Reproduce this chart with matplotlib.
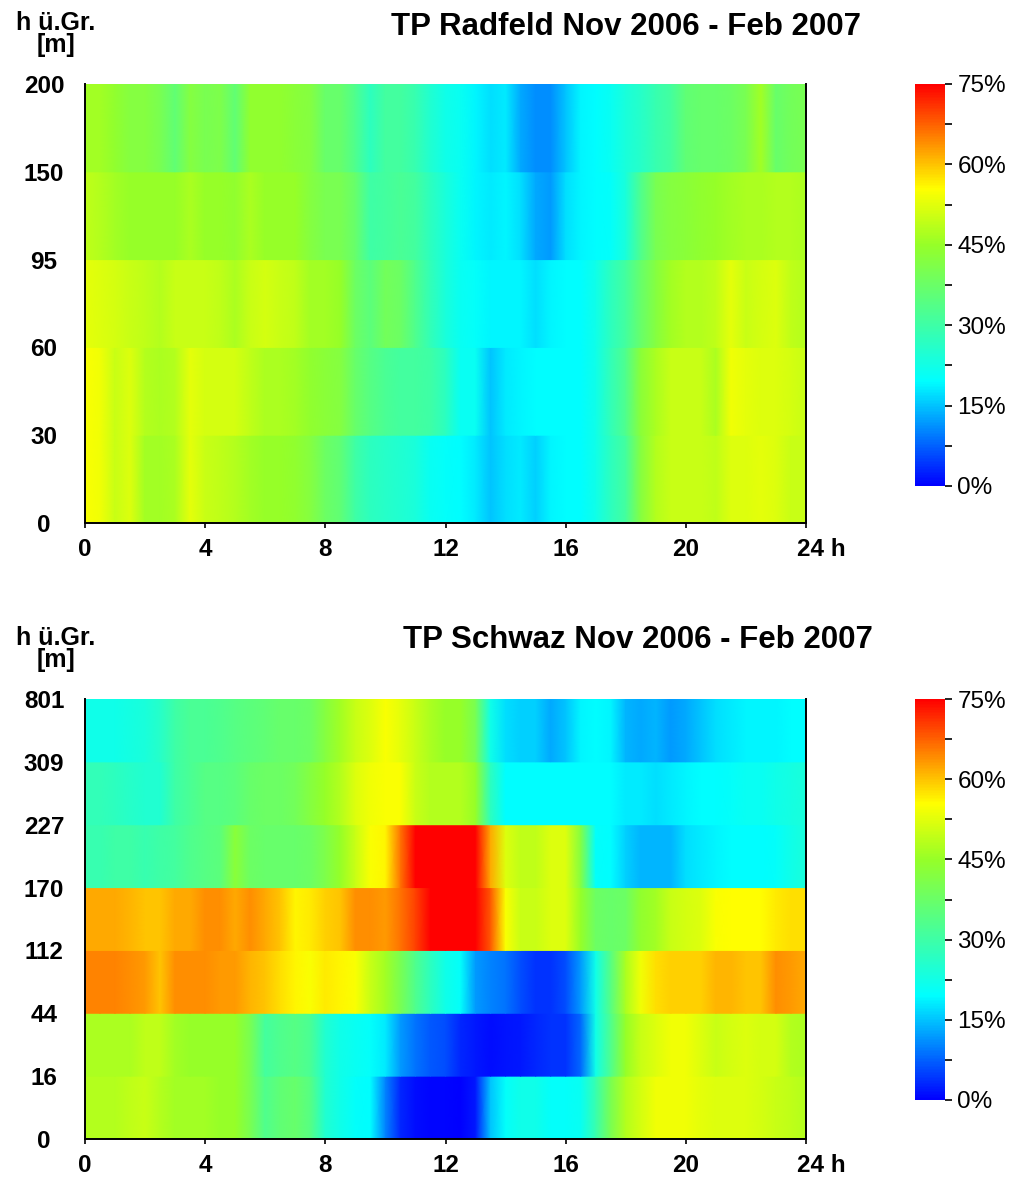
import numpy as np
import matplotlib
matplotlib.use("Agg")
import matplotlib.pyplot as plt
import matplotlib.transforms as mtransforms
from matplotlib.colors import LinearSegmentedColormap, Normalize
from matplotlib.cm import ScalarMappable
from matplotlib.ticker import MultipleLocator

# half-hourly values 0:00 ... 24:00, percent
hours = np.arange(0, 24.5, 0.5)

radfeld_levels = ["0", "30", "60", "95", "150", "200"]
radfeld_rows = [
    # 0-30 m
    [55, 54, 50, 52, 46, 46, 47, 53, 50, 49, 48, 46, 45, 45, 44, 42, 38, 36, 30, 27, 26, 25, 24, 21, 20,
     19.5, 18, 15, 17, 18, 16, 19, 19.5, 19.5, 22, 27, 31, 42, 48, 50, 50, 50, 49, 52, 52, 53, 52, 50, 50],
    # 30-60 m
    [55, 54, 50, 52, 48, 47, 48, 53, 51, 51, 51, 49, 47, 47, 46, 44, 43, 42, 37, 34, 32, 31, 31, 30, 27,
     21, 21, 15, 18, 19, 19.5, 19.5, 19.5, 19.5, 22, 28, 33, 43, 47, 50, 50, 50, 47, 54, 53, 52, 52, 51, 50],
    # 60-95 m
    [53, 52, 51, 50, 49, 48, 50, 50, 50, 49, 47, 50, 51, 50, 49, 46, 46, 45, 38, 35, 39, 38, 33, 28, 24,
     21, 20, 19, 19, 19, 17, 19, 19.5, 19.5, 22, 27, 31, 37, 42, 46, 48, 48, 49, 53, 50, 51, 52, 49, 48],
    # 95-150 m
    [49, 48, 46, 45, 45, 45, 45, 47, 45, 45, 44, 47, 45, 45, 45, 42, 40, 40, 37, 30, 31, 32, 31, 27, 24,
     21, 19, 18, 19, 17, 13, 12, 17, 19, 19.5, 20, 24, 33, 40, 42, 43, 44, 45, 46, 47, 47, 48, 48, 47],
    # 150-200 m
    [46, 46, 44, 42, 42, 40, 36, 42, 40, 41, 36, 44, 44, 44, 43, 42, 37, 37, 33, 27, 31, 31, 29, 25, 22,
     21, 19, 17, 18, 13, 11, 11, 15, 19, 19.5, 21, 24, 26, 29, 31, 36, 37, 37, 38, 40, 46, 37, 39, 40],
]

schwaz_levels = ["0", "16", "44", "112", "170", "227", "309", "801"]
schwaz_rows = [
    # 0-16 m
    [48, 48, 48, 49, 50, 48, 46, 46, 46, 45, 45, 40, 33, 36, 37, 34, 25, 22, 20, 19.5, 10, 3, 1, 0.5, 0.5,
     0, 2, 15, 20, 22, 22, 20, 20, 21, 29, 40, 48, 51, 54, 54, 54, 53, 52, 52, 52, 51, 50, 49, 48],
    # 16-44 m
    [47, 47, 47, 47, 49, 49, 46, 45, 45, 45, 45, 40, 31, 33, 34, 32, 25, 22, 21, 20, 18, 12, 9, 7, 6,
     3, 2, 1, 1.5, 2, 3, 4, 4, 8, 22, 33, 45, 50, 52, 54, 54, 52, 50, 51, 52, 51, 51, 48, 47],
    # 44-112 m
    [65, 65, 65, 64, 63, 60, 64, 64, 64, 63, 63, 61, 60, 58, 56, 55, 57, 56, 55, 50, 46, 40, 33, 27, 22,
     20, 12, 10, 9, 6, 4, 4, 6, 12, 22, 34, 47, 54, 58, 59, 59, 59, 61, 61, 60, 60, 64, 63, 62],
    # 112-170 m
    [62, 62, 62, 61, 60, 60, 62, 62, 64, 64, 62, 64, 62, 60, 56, 57, 59, 60, 64, 64, 63, 66, 70, 75, 75,
     75, 75, 68, 55, 50, 50, 52, 52, 45, 38, 37, 38, 44, 46, 50, 51, 52, 55, 55.5, 55.5, 55.5, 57, 58, 58],
    # 170-227 m
    [29, 29, 30, 30, 29, 30, 31, 33, 34, 35, 43, 38, 37, 37, 37, 38, 41, 45, 50, 55, 56, 66, 75, 75, 75,
     75, 75, 62, 52, 49, 49, 52, 52, 42, 20, 19.5, 16, 14, 14, 14, 17, 18, 19, 19.5, 19.5, 19.5, 20, 22, 24],
    # 227-309 m
    [28, 28, 27, 26, 25, 25, 30, 32, 34, 34, 35, 37, 38, 38, 39, 42, 45, 48, 52, 54, 55, 55, 50, 48, 48,
     48, 45, 27, 19.5, 19.5, 19.5, 19.5, 19.5, 19.5, 19.5, 19.5, 18, 18, 17, 18, 19, 19.5, 19.5, 20, 21, 21, 22, 23, 24],
    # 309-801 m
    [22, 22, 22, 23, 24, 26, 30, 32, 32, 33, 34, 35, 36, 37, 37, 38, 42, 46, 50, 52, 55, 53, 50, 47, 45,
     45, 40, 22, 17, 16, 16, 13, 15, 19, 19.5, 19, 14, 13, 14, 12, 13, 15, 17, 18, 19, 19, 19, 19.5, 19.5],
]

panels = [
    ("TP Radfeld Nov 2006 - Feb 2007", radfeld_levels, radfeld_rows),
    ("TP Schwaz Nov 2006 - Feb 2007", schwaz_levels, schwaz_rows),
]

cmap = LinearSegmentedColormap.from_list(
    "rf", [(0.0, "#0000ff"), (0.26, "#00ffff"), (0.6, "#96ff28"),
           (0.74, "#ffff00"), (1.0, "#ff0000")])
norm = Normalize(vmin=0, vmax=75)

font = ["Liberation Sans", "DejaVu Sans"]

W, H = 1018, 1178
fig = plt.figure(figsize=(W / 100, H / 100), dpi=100)

# pixel boxes: (top of axes, bottom of axes, bottom of colorbar)
boxes = [(84, 523, 486), (699, 1139, 1100)]
title_xy = [(626, 27), (638, 640)]

for (title, levels, rows), (top, bot, cbot), (tx, ty) in zip(panels, boxes, title_xy):
    ax = fig.add_axes([85 / W, 1 - bot / H, 721 / W, (bot - top) / H])
    for k, vals in enumerate(rows):
        z = np.vstack([vals, vals])
        ax.pcolormesh(hours, [k, k + 1], z, shading="gouraud", cmap=cmap, norm=norm)
    ax.set_xlim(0, 24)
    ax.set_ylim(0, len(rows))
    ax.set_xticks(range(0, 25, 4))
    ax.set_xticklabels(["0", "4", "8", "12", "16", "20", "24 h"])
    ax.set_yticks(range(len(levels)))
    ax.set_yticklabels(levels)
    ax.tick_params(axis="x", direction="out", length=3.5, width=1.2, pad=7, color="black")
    ax.tick_params(axis="y", length=0, pad=29.5)
    for lab in ax.get_xticklabels() + ax.get_yticklabels():
        lab.set_fontfamily(font)
        lab.set_fontweight("bold")
        lab.set_fontsize(17.5)
    for lab in ax.get_yticklabels():
        lab.set_horizontalalignment("center")
    last = ax.xaxis.get_major_ticks()[-1].label1
    last.set_horizontalalignment("left")
    last.set_transform(last.get_transform() +
                       mtransforms.ScaledTranslation(-9 / 100, 0, fig.dpi_scale_trans))
    ax.spines["top"].set_visible(False)
    for s in ["left", "right", "bottom"]:
        ax.spines[s].set_linewidth(1.4)
        ax.spines[s].set_color("black")

    fig.text(tx / W, 1 - ty / H, title, ha="center", va="center",
             fontsize=22.5, fontweight="bold", family=font)
    fig.text(56 / W, 1 - (top - 50) / H, "h ü.Gr.\n[m]", ha="center", va="center",
             fontsize=18, fontweight="bold", family=font, linespacing=0.85)

    cax = fig.add_axes([915 / W, 1 - cbot / H, 30 / W, (cbot - top) / H])
    cb = fig.colorbar(ScalarMappable(norm=norm, cmap=cmap), cax=cax,
                      ticks=[0, 15, 30, 45, 60, 75])
    cb.outline.set_visible(False)
    cb.ax.yaxis.set_minor_locator(MultipleLocator(7.5))
    cb.ax.set_yticklabels(["0%", "15%", "30%", "45%", "60%", "75%"])
    cb.ax.tick_params(which="both", direction="out", length=5, width=1.2, pad=4)
    for lab in cb.ax.get_yticklabels():
        lab.set_fontfamily(font)
        lab.set_fontsize(17.5)

fig.savefig("out.png", dpi=100)
